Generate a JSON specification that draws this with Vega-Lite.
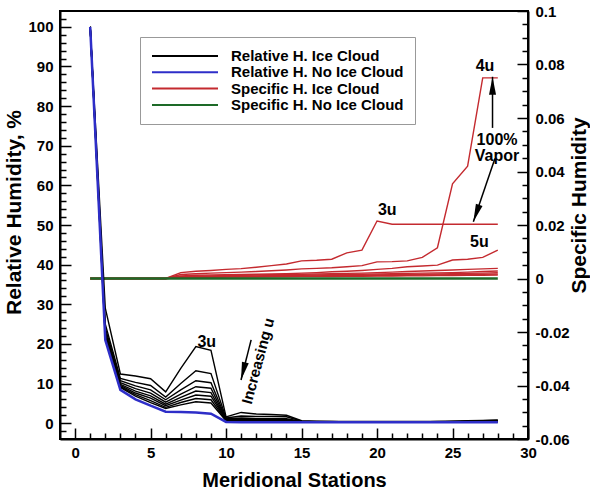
{
"$schema": "https://vega.github.io/schema/vega-lite/v6.json",
"width": 468, "height": 428,
"autosize": {"type": "none"},
"padding": {"left": 60, "top": 11, "right": 62, "bottom": 54},
"datasets": {
"rhi": [
{"s":1,"v":100,"c":"3u"},{"s":2,"v":29,"c":"3u"},{"s":3,"v":12.4,"c":"3u"},{"s":4,"v":11.9,"c":"3u"},{"s":5,"v":11.2,"c":"3u"},{"s":6,"v":7.9,"c":"3u"},{"s":7,"v":13.8,"c":"3u"},{"s":8,"v":19.3,"c":"3u"},{"s":9,"v":18.4,"c":"3u"},{"s":10,"v":1.6,"c":"3u"},{"s":11,"v":2.7,"c":"3u"},{"s":12,"v":2.3,"c":"3u"},{"s":13,"v":2.2,"c":"3u"},{"s":14,"v":2.0,"c":"3u"},{"s":15,"v":0.6,"c":"3u"},{"s":16,"v":0.5,"c":"3u"},{"s":17,"v":0.4,"c":"3u"},{"s":18,"v":0.4,"c":"3u"},{"s":19,"v":0.4,"c":"3u"},{"s":20,"v":0.4,"c":"3u"},{"s":21,"v":0.4,"c":"3u"},{"s":22,"v":0.4,"c":"3u"},{"s":23,"v":0.4,"c":"3u"},{"s":24,"v":0.4,"c":"3u"},{"s":25,"v":0.5,"c":"3u"},{"s":26,"v":0.6,"c":"3u"},{"s":27,"v":0.7,"c":"3u"},{"s":28,"v":0.8,"c":"3u"},
{"s":1,"v":100,"c":"4u"},{"s":2,"v":25,"c":"4u"},{"s":3,"v":11.3,"c":"4u"},{"s":4,"v":10.3,"c":"4u"},{"s":5,"v":9.5,"c":"4u"},{"s":6,"v":6.6,"c":"4u"},{"s":7,"v":10.0,"c":"4u"},{"s":8,"v":13.2,"c":"4u"},{"s":9,"v":12.5,"c":"4u"},{"s":10,"v":1.3,"c":"4u"},{"s":11,"v":1.8,"c":"4u"},{"s":12,"v":1.7,"c":"4u"},{"s":13,"v":1.7,"c":"4u"},{"s":14,"v":1.6,"c":"4u"},{"s":15,"v":0.5,"c":"4u"},{"s":16,"v":0.4,"c":"4u"},{"s":17,"v":0.4,"c":"4u"},{"s":18,"v":0.3,"c":"4u"},{"s":19,"v":0.3,"c":"4u"},{"s":20,"v":0.3,"c":"4u"},{"s":21,"v":0.3,"c":"4u"},{"s":22,"v":0.3,"c":"4u"},{"s":23,"v":0.3,"c":"4u"},{"s":24,"v":0.4,"c":"4u"},{"s":25,"v":0.4,"c":"4u"},{"s":26,"v":0.5,"c":"4u"},{"s":27,"v":0.6,"c":"4u"},{"s":28,"v":0.7,"c":"4u"},
{"s":1,"v":100,"c":"5u"},{"s":2,"v":24,"c":"5u"},{"s":3,"v":10.7,"c":"5u"},{"s":4,"v":9.4,"c":"5u"},{"s":5,"v":8.4,"c":"5u"},{"s":6,"v":5.9,"c":"5u"},{"s":7,"v":8.4,"c":"5u"},{"s":8,"v":10.7,"c":"5u"},{"s":9,"v":10.2,"c":"5u"},{"s":10,"v":1.1,"c":"5u"},{"s":11,"v":1.3,"c":"5u"},{"s":12,"v":1.2,"c":"5u"},{"s":13,"v":1.2,"c":"5u"},{"s":14,"v":1.1,"c":"5u"},{"s":15,"v":0.4,"c":"5u"},{"s":16,"v":0.3,"c":"5u"},{"s":17,"v":0.3,"c":"5u"},{"s":18,"v":0.3,"c":"5u"},{"s":19,"v":0.3,"c":"5u"},{"s":20,"v":0.3,"c":"5u"},{"s":21,"v":0.3,"c":"5u"},{"s":22,"v":0.3,"c":"5u"},{"s":23,"v":0.3,"c":"5u"},{"s":24,"v":0.3,"c":"5u"},{"s":25,"v":0.4,"c":"5u"},{"s":26,"v":0.4,"c":"5u"},{"s":27,"v":0.5,"c":"5u"},{"s":28,"v":0.6,"c":"5u"},
{"s":1,"v":100,"c":"6u"},{"s":2,"v":23.2,"c":"6u"},{"s":3,"v":10.2,"c":"6u"},{"s":4,"v":8.7,"c":"6u"},{"s":5,"v":7.6,"c":"6u"},{"s":6,"v":5.3,"c":"6u"},{"s":7,"v":7.3,"c":"6u"},{"s":8,"v":9.2,"c":"6u"},{"s":9,"v":8.8,"c":"6u"},{"s":10,"v":1.0,"c":"6u"},{"s":11,"v":1.0,"c":"6u"},{"s":12,"v":1.0,"c":"6u"},{"s":13,"v":1.0,"c":"6u"},{"s":14,"v":0.9,"c":"6u"},{"s":15,"v":0.4,"c":"6u"},{"s":16,"v":0.3,"c":"6u"},{"s":17,"v":0.3,"c":"6u"},{"s":18,"v":0.3,"c":"6u"},{"s":19,"v":0.3,"c":"6u"},{"s":20,"v":0.3,"c":"6u"},{"s":21,"v":0.3,"c":"6u"},{"s":22,"v":0.3,"c":"6u"},{"s":23,"v":0.3,"c":"6u"},{"s":24,"v":0.3,"c":"6u"},{"s":25,"v":0.3,"c":"6u"},{"s":26,"v":0.4,"c":"6u"},{"s":27,"v":0.4,"c":"6u"},{"s":28,"v":0.5,"c":"6u"},
{"s":1,"v":100,"c":"7u"},{"s":2,"v":22.6,"c":"7u"},{"s":3,"v":9.8,"c":"7u"},{"s":4,"v":8.1,"c":"7u"},{"s":5,"v":6.9,"c":"7u"},{"s":6,"v":4.8,"c":"7u"},{"s":7,"v":6.5,"c":"7u"},{"s":8,"v":8.1,"c":"7u"},{"s":9,"v":7.7,"c":"7u"},{"s":10,"v":0.9,"c":"7u"},{"s":11,"v":0.9,"c":"7u"},{"s":12,"v":0.8,"c":"7u"},{"s":13,"v":0.8,"c":"7u"},{"s":14,"v":0.8,"c":"7u"},{"s":15,"v":0.3,"c":"7u"},{"s":16,"v":0.3,"c":"7u"},{"s":17,"v":0.3,"c":"7u"},{"s":18,"v":0.3,"c":"7u"},{"s":19,"v":0.3,"c":"7u"},{"s":20,"v":0.3,"c":"7u"},{"s":21,"v":0.3,"c":"7u"},{"s":22,"v":0.3,"c":"7u"},{"s":23,"v":0.3,"c":"7u"},{"s":24,"v":0.3,"c":"7u"},{"s":25,"v":0.3,"c":"7u"},{"s":26,"v":0.3,"c":"7u"},{"s":27,"v":0.4,"c":"7u"},{"s":28,"v":0.5,"c":"7u"},
{"s":1,"v":100,"c":"8u"},{"s":2,"v":22.1,"c":"8u"},{"s":3,"v":9.5,"c":"8u"},{"s":4,"v":7.6,"c":"8u"},{"s":5,"v":6.3,"c":"8u"},{"s":6,"v":4.4,"c":"8u"},{"s":7,"v":5.8,"c":"8u"},{"s":8,"v":7.1,"c":"8u"},{"s":9,"v":6.8,"c":"8u"},{"s":10,"v":0.8,"c":"8u"},{"s":11,"v":0.8,"c":"8u"},{"s":12,"v":0.7,"c":"8u"},{"s":13,"v":0.7,"c":"8u"},{"s":14,"v":0.7,"c":"8u"},{"s":15,"v":0.3,"c":"8u"},{"s":16,"v":0.3,"c":"8u"},{"s":17,"v":0.2,"c":"8u"},{"s":18,"v":0.2,"c":"8u"},{"s":19,"v":0.2,"c":"8u"},{"s":20,"v":0.2,"c":"8u"},{"s":21,"v":0.2,"c":"8u"},{"s":22,"v":0.2,"c":"8u"},{"s":23,"v":0.2,"c":"8u"},{"s":24,"v":0.2,"c":"8u"},{"s":25,"v":0.3,"c":"8u"},{"s":26,"v":0.3,"c":"8u"},{"s":27,"v":0.3,"c":"8u"},{"s":28,"v":0.4,"c":"8u"},
{"s":1,"v":100,"c":"9u"},{"s":2,"v":21.7,"c":"9u"},{"s":3,"v":9.2,"c":"9u"},{"s":4,"v":7.2,"c":"9u"},{"s":5,"v":5.7,"c":"9u"},{"s":6,"v":4.0,"c":"9u"},{"s":7,"v":5.2,"c":"9u"},{"s":8,"v":6.2,"c":"9u"},{"s":9,"v":5.9,"c":"9u"},{"s":10,"v":0.7,"c":"9u"},{"s":11,"v":0.7,"c":"9u"},{"s":12,"v":0.6,"c":"9u"},{"s":13,"v":0.6,"c":"9u"},{"s":14,"v":0.6,"c":"9u"},{"s":15,"v":0.3,"c":"9u"},{"s":16,"v":0.2,"c":"9u"},{"s":17,"v":0.2,"c":"9u"},{"s":18,"v":0.2,"c":"9u"},{"s":19,"v":0.2,"c":"9u"},{"s":20,"v":0.2,"c":"9u"},{"s":21,"v":0.2,"c":"9u"},{"s":22,"v":0.2,"c":"9u"},{"s":23,"v":0.2,"c":"9u"},{"s":24,"v":0.2,"c":"9u"},{"s":25,"v":0.2,"c":"9u"},{"s":26,"v":0.3,"c":"9u"},{"s":27,"v":0.3,"c":"9u"},{"s":28,"v":0.4,"c":"9u"},
{"s":1,"v":100,"c":"10u"},{"s":2,"v":21.4,"c":"10u"},{"s":3,"v":9.0,"c":"10u"},{"s":4,"v":6.8,"c":"10u"},{"s":5,"v":5.2,"c":"10u"},{"s":6,"v":3.7,"c":"10u"},{"s":7,"v":4.6,"c":"10u"},{"s":8,"v":5.4,"c":"10u"},{"s":9,"v":5.1,"c":"10u"},{"s":10,"v":0.6,"c":"10u"},{"s":11,"v":0.6,"c":"10u"},{"s":12,"v":0.5,"c":"10u"},{"s":13,"v":0.5,"c":"10u"},{"s":14,"v":0.5,"c":"10u"},{"s":15,"v":0.2,"c":"10u"},{"s":16,"v":0.2,"c":"10u"},{"s":17,"v":0.2,"c":"10u"},{"s":18,"v":0.2,"c":"10u"},{"s":19,"v":0.2,"c":"10u"},{"s":20,"v":0.2,"c":"10u"},{"s":21,"v":0.2,"c":"10u"},{"s":22,"v":0.2,"c":"10u"},{"s":23,"v":0.2,"c":"10u"},{"s":24,"v":0.2,"c":"10u"},{"s":25,"v":0.2,"c":"10u"},{"s":26,"v":0.2,"c":"10u"},{"s":27,"v":0.3,"c":"10u"},{"s":28,"v":0.3,"c":"10u"}
],
"rhn": [
{"s":1,"v":100},{"s":2,"v":21},{"s":3,"v":8.4},{"s":4,"v":6.0},{"s":5,"v":4.4},{"s":6,"v":2.9},{"s":7,"v":2.8},{"s":8,"v":2.7},{"s":9,"v":2.4},{"s":10,"v":0.3},{"s":11,"v":0.2},{"s":12,"v":0.2},{"s":13,"v":0.2},{"s":14,"v":0.2},{"s":15,"v":0.2},{"s":16,"v":0.2},{"s":17,"v":0.2},{"s":18,"v":0.2},{"s":19,"v":0.2},{"s":20,"v":0.2},{"s":21,"v":0.2},{"s":22,"v":0.2},{"s":23,"v":0.2},{"s":24,"v":0.2},{"s":25,"v":0.2},{"s":26,"v":0.2},{"s":27,"v":0.2},{"s":28,"v":0.2}
],
"shi": [
{"s":1,"v":0,"c":"3u"},{"s":2,"v":0,"c":"3u"},{"s":3,"v":0,"c":"3u"},{"s":4,"v":0,"c":"3u"},{"s":5,"v":0,"c":"3u"},{"s":6,"v":0,"c":"3u"},{"s":7,"v":0.0022,"c":"3u"},{"s":8,"v":0.0027,"c":"3u"},{"s":9,"v":0.003,"c":"3u"},{"s":10,"v":0.0034,"c":"3u"},{"s":11,"v":0.0037,"c":"3u"},{"s":12,"v":0.0042,"c":"3u"},{"s":13,"v":0.0048,"c":"3u"},{"s":14,"v":0.0054,"c":"3u"},{"s":15,"v":0.0066,"c":"3u"},{"s":16,"v":0.0068,"c":"3u"},{"s":17,"v":0.0072,"c":"3u"},{"s":18,"v":0.0096,"c":"3u"},{"s":19,"v":0.0106,"c":"3u"},{"s":20,"v":0.0215,"c":"3u"},{"s":21,"v":0.0203,"c":"3u"},{"s":22,"v":0.0203,"c":"3u"},{"s":23,"v":0.0203,"c":"3u"},{"s":24,"v":0.0203,"c":"3u"},{"s":25,"v":0.0203,"c":"3u"},{"s":26,"v":0.0203,"c":"3u"},{"s":27,"v":0.0203,"c":"3u"},{"s":28,"v":0.0203,"c":"3u"},
{"s":1,"v":0,"c":"4u"},{"s":2,"v":0,"c":"4u"},{"s":3,"v":0,"c":"4u"},{"s":4,"v":0,"c":"4u"},{"s":5,"v":0,"c":"4u"},{"s":6,"v":0,"c":"4u"},{"s":7,"v":0.0015,"c":"4u"},{"s":8,"v":0.0018,"c":"4u"},{"s":9,"v":0.002,"c":"4u"},{"s":10,"v":0.0022,"c":"4u"},{"s":11,"v":0.0024,"c":"4u"},{"s":12,"v":0.0026,"c":"4u"},{"s":13,"v":0.0029,"c":"4u"},{"s":14,"v":0.0032,"c":"4u"},{"s":15,"v":0.0036,"c":"4u"},{"s":16,"v":0.0038,"c":"4u"},{"s":17,"v":0.004,"c":"4u"},{"s":18,"v":0.0044,"c":"4u"},{"s":19,"v":0.0048,"c":"4u"},{"s":20,"v":0.0062,"c":"4u"},{"s":21,"v":0.0063,"c":"4u"},{"s":22,"v":0.0066,"c":"4u"},{"s":23,"v":0.0079,"c":"4u"},{"s":24,"v":0.0115,"c":"4u"},{"s":25,"v":0.0354,"c":"4u"},{"s":26,"v":0.042,"c":"4u"},{"s":27,"v":0.075,"c":"4u"},{"s":28,"v":0.075,"c":"4u"},
{"s":1,"v":0,"c":"5u"},{"s":2,"v":0,"c":"5u"},{"s":3,"v":0,"c":"5u"},{"s":4,"v":0,"c":"5u"},{"s":5,"v":0,"c":"5u"},{"s":6,"v":0,"c":"5u"},{"s":7,"v":0.001,"c":"5u"},{"s":8,"v":0.0012,"c":"5u"},{"s":9,"v":0.0013,"c":"5u"},{"s":10,"v":0.0014,"c":"5u"},{"s":11,"v":0.0015,"c":"5u"},{"s":12,"v":0.0016,"c":"5u"},{"s":13,"v":0.0017,"c":"5u"},{"s":14,"v":0.0018,"c":"5u"},{"s":15,"v":0.002,"c":"5u"},{"s":16,"v":0.0022,"c":"5u"},{"s":17,"v":0.0025,"c":"5u"},{"s":18,"v":0.0027,"c":"5u"},{"s":19,"v":0.003,"c":"5u"},{"s":20,"v":0.0034,"c":"5u"},{"s":21,"v":0.0038,"c":"5u"},{"s":22,"v":0.0044,"c":"5u"},{"s":23,"v":0.0047,"c":"5u"},{"s":24,"v":0.005,"c":"5u"},{"s":25,"v":0.0069,"c":"5u"},{"s":26,"v":0.0072,"c":"5u"},{"s":27,"v":0.0079,"c":"5u"},{"s":28,"v":0.0106,"c":"5u"},
{"s":1,"v":0,"c":"6u"},{"s":2,"v":0,"c":"6u"},{"s":3,"v":0,"c":"6u"},{"s":4,"v":0,"c":"6u"},{"s":5,"v":0,"c":"6u"},{"s":6,"v":0,"c":"6u"},{"s":7,"v":0.0008,"c":"6u"},{"s":8,"v":0.0009,"c":"6u"},{"s":9,"v":0.001,"c":"6u"},{"s":10,"v":0.0011,"c":"6u"},{"s":11,"v":0.0012,"c":"6u"},{"s":12,"v":0.0013,"c":"6u"},{"s":13,"v":0.0014,"c":"6u"},{"s":14,"v":0.0015,"c":"6u"},{"s":15,"v":0.0016,"c":"6u"},{"s":16,"v":0.0017,"c":"6u"},{"s":17,"v":0.0018,"c":"6u"},{"s":18,"v":0.0019,"c":"6u"},{"s":19,"v":0.002,"c":"6u"},{"s":20,"v":0.0022,"c":"6u"},{"s":21,"v":0.0024,"c":"6u"},{"s":22,"v":0.0026,"c":"6u"},{"s":23,"v":0.0028,"c":"6u"},{"s":24,"v":0.003,"c":"6u"},{"s":25,"v":0.0032,"c":"6u"},{"s":26,"v":0.0034,"c":"6u"},{"s":27,"v":0.0036,"c":"6u"},{"s":28,"v":0.0038,"c":"6u"},
{"s":1,"v":0,"c":"7u"},{"s":2,"v":0,"c":"7u"},{"s":3,"v":0,"c":"7u"},{"s":4,"v":0,"c":"7u"},{"s":5,"v":0,"c":"7u"},{"s":6,"v":0,"c":"7u"},{"s":7,"v":0.0006,"c":"7u"},{"s":8,"v":0.0007,"c":"7u"},{"s":9,"v":0.0008,"c":"7u"},{"s":10,"v":0.0009,"c":"7u"},{"s":11,"v":0.001,"c":"7u"},{"s":12,"v":0.001,"c":"7u"},{"s":13,"v":0.0011,"c":"7u"},{"s":14,"v":0.0012,"c":"7u"},{"s":15,"v":0.0012,"c":"7u"},{"s":16,"v":0.0013,"c":"7u"},{"s":17,"v":0.0014,"c":"7u"},{"s":18,"v":0.0015,"c":"7u"},{"s":19,"v":0.0016,"c":"7u"},{"s":20,"v":0.0017,"c":"7u"},{"s":21,"v":0.0018,"c":"7u"},{"s":22,"v":0.0019,"c":"7u"},{"s":23,"v":0.002,"c":"7u"},{"s":24,"v":0.0021,"c":"7u"},{"s":25,"v":0.0022,"c":"7u"},{"s":26,"v":0.0024,"c":"7u"},{"s":27,"v":0.0026,"c":"7u"},{"s":28,"v":0.0028,"c":"7u"},
{"s":1,"v":0,"c":"8u"},{"s":2,"v":0,"c":"8u"},{"s":3,"v":0,"c":"8u"},{"s":4,"v":0,"c":"8u"},{"s":5,"v":0,"c":"8u"},{"s":6,"v":0,"c":"8u"},{"s":7,"v":0.0005,"c":"8u"},{"s":8,"v":0.0006,"c":"8u"},{"s":9,"v":0.0006,"c":"8u"},{"s":10,"v":0.0007,"c":"8u"},{"s":11,"v":0.0008,"c":"8u"},{"s":12,"v":0.0008,"c":"8u"},{"s":13,"v":0.0009,"c":"8u"},{"s":14,"v":0.0009,"c":"8u"},{"s":15,"v":0.001,"c":"8u"},{"s":16,"v":0.001,"c":"8u"},{"s":17,"v":0.0011,"c":"8u"},{"s":18,"v":0.0012,"c":"8u"},{"s":19,"v":0.0012,"c":"8u"},{"s":20,"v":0.0013,"c":"8u"},{"s":21,"v":0.0014,"c":"8u"},{"s":22,"v":0.0015,"c":"8u"},{"s":23,"v":0.0016,"c":"8u"},{"s":24,"v":0.0017,"c":"8u"},{"s":25,"v":0.0018,"c":"8u"},{"s":26,"v":0.0019,"c":"8u"},{"s":27,"v":0.002,"c":"8u"},{"s":28,"v":0.0022,"c":"8u"},
{"s":1,"v":0,"c":"9u"},{"s":2,"v":0,"c":"9u"},{"s":3,"v":0,"c":"9u"},{"s":4,"v":0,"c":"9u"},{"s":5,"v":0,"c":"9u"},{"s":6,"v":0,"c":"9u"},{"s":7,"v":0.0004,"c":"9u"},{"s":8,"v":0.0005,"c":"9u"},{"s":9,"v":0.0005,"c":"9u"},{"s":10,"v":0.0006,"c":"9u"},{"s":11,"v":0.0006,"c":"9u"},{"s":12,"v":0.0007,"c":"9u"},{"s":13,"v":0.0007,"c":"9u"},{"s":14,"v":0.0008,"c":"9u"},{"s":15,"v":0.0008,"c":"9u"},{"s":16,"v":0.0009,"c":"9u"},{"s":17,"v":0.0009,"c":"9u"},{"s":18,"v":0.001,"c":"9u"},{"s":19,"v":0.001,"c":"9u"},{"s":20,"v":0.0011,"c":"9u"},{"s":21,"v":0.0011,"c":"9u"},{"s":22,"v":0.0012,"c":"9u"},{"s":23,"v":0.0013,"c":"9u"},{"s":24,"v":0.0013,"c":"9u"},{"s":25,"v":0.0014,"c":"9u"},{"s":26,"v":0.0015,"c":"9u"},{"s":27,"v":0.0016,"c":"9u"},{"s":28,"v":0.0017,"c":"9u"},
{"s":1,"v":0,"c":"10u"},{"s":2,"v":0,"c":"10u"},{"s":3,"v":0,"c":"10u"},{"s":4,"v":0,"c":"10u"},{"s":5,"v":0,"c":"10u"},{"s":6,"v":0,"c":"10u"},{"s":7,"v":0.0003,"c":"10u"},{"s":8,"v":0.0004,"c":"10u"},{"s":9,"v":0.0004,"c":"10u"},{"s":10,"v":0.0005,"c":"10u"},{"s":11,"v":0.0005,"c":"10u"},{"s":12,"v":0.0005,"c":"10u"},{"s":13,"v":0.0006,"c":"10u"},{"s":14,"v":0.0006,"c":"10u"},{"s":15,"v":0.0007,"c":"10u"},{"s":16,"v":0.0007,"c":"10u"},{"s":17,"v":0.0007,"c":"10u"},{"s":18,"v":0.0008,"c":"10u"},{"s":19,"v":0.0008,"c":"10u"},{"s":20,"v":0.0009,"c":"10u"},{"s":21,"v":0.0009,"c":"10u"},{"s":22,"v":0.001,"c":"10u"},{"s":23,"v":0.001,"c":"10u"},{"s":24,"v":0.0011,"c":"10u"},{"s":25,"v":0.0011,"c":"10u"},{"s":26,"v":0.0012,"c":"10u"},{"s":27,"v":0.0012,"c":"10u"},{"s":28,"v":0.0013,"c":"10u"}
],
"shn": [
{"s":1,"v":0},{"s":2,"v":0},{"s":3,"v":0},{"s":4,"v":0},{"s":5,"v":0},{"s":6,"v":0},{"s":7,"v":0},{"s":8,"v":0},{"s":9,"v":0},{"s":10,"v":0},{"s":11,"v":0},{"s":12,"v":0},{"s":13,"v":0},{"s":14,"v":0},{"s":15,"v":0},{"s":16,"v":0},{"s":17,"v":0},{"s":18,"v":0},{"s":19,"v":0},{"s":20,"v":0},{"s":21,"v":0},{"s":22,"v":0},{"s":23,"v":0},{"s":24,"v":0},{"s":25,"v":0},{"s":26,"v":0},{"s":27,"v":0},{"s":28,"v":0}
],
"ann": [
{"s":8.72,"v":20.5,"t":"3u"},{"s":20.68,"v":53.8,"t":"3u"},{"s":27.15,"v":90.0,"t":"4u"},{"s":26.78,"v":45.8,"t":"5u"},{"s":27.95,"v":71.4,"t":"100%\nVapor"}
],
"rot": [{"s":12.12,"v":15.7,"t":"Increasing u"}],
"arrows": [
{"id":"inc","s":11.66,"v":21.0,"s2":10.99,"v2":10.9},
{"id":"up","s":27.65,"v":74.5,"s2":27.65,"v2":87.4},
{"id":"vap","s":27.81,"v":66.8,"s2":26.38,"v2":50.8}
]
},
"encoding": {
  "x": {"field": "s", "type": "quantitative",
    "scale": {"domain": [-1, 30], "nice": false, "zero": false},
    "axis": {"title": "Meridional Stations", "titleFontSize": 20,
      "values": [0,1,2,3,4,5,6,7,8,9,10,11,12,13,14,15,16,17,18,19,20,21,22,23,24,25,26,27,28,29,30],
      "labelExpr": "datum.value % 5 === 0 ? datum.label : ''",
      "tickSize": {"condition": {"test": "datum.value % 5 === 0", "value": -11}, "value": -6},
      "labelPadding": 17, "titlePadding": 5}}
},
"layer": [
  {
    "encoding": {"y": {"field": "v", "type": "quantitative",
      "scale": {"domain": [-0.06, 0.1], "nice": false, "zero": false},
      "axis": {"orient": "right", "title": "Specific Humidity", "titleAngle": 270, "titleBaseline": "top", "titleY": 194, "titleFontSize": 21,
        "values": [-0.06,-0.055,-0.05,-0.045,-0.04,-0.035,-0.03,-0.025,-0.02,-0.015,-0.01,-0.005,0,0.005,0.01,0.015,0.02,0.025,0.03,0.035,0.04,0.045,0.05,0.055,0.06,0.065,0.07,0.075,0.08,0.085,0.09,0.095,0.1],
        "labelExpr": "round(abs(datum.value)*1000) % 20 === 0 ? replace(format(datum.value, '~g'), '\u2212', '-') : ''",
        "tickSize": {"condition": {"test": "round(abs(datum.value)*1000) % 20 === 0", "value": -11}, "value": -6},
        "labelPadding": 18, "titlePadding": -1}}},
    "layer": [
      {"data": {"name": "shi"}, "mark": {"type": "line", "strokeWidth": 1.4},
       "encoding": {"detail": {"field": "c"}, "color": {"datum": "Specific H. Ice Cloud"}}},
      {"data": {"name": "shn"}, "mark": {"type": "line", "strokeWidth": 2.5},
       "encoding": {"color": {"datum": "Specific H. No Ice Cloud"}}}
    ]
  },
  {
    "encoding": {"y": {"field": "v", "type": "quantitative",
      "scale": {"domain": [-4, 104], "nice": false, "zero": false},
      "axis": {"orient": "left", "title": "Relative Humidity, %", "titleY": 201, "titleFontSize": 21,
        "values": [-2,0,2,4,6,8,10,12,14,16,18,20,22,24,26,28,30,32,34,36,38,40,42,44,46,48,50,52,54,56,58,60,62,64,66,68,70,72,74,76,78,80,82,84,86,88,90,92,94,96,98,100,102],
        "labelExpr": "datum.value % 10 === 0 ? datum.label : ''",
        "tickSize": {"condition": {"test": "datum.value % 10 === 0", "value": -11}, "value": -6},
        "labelPadding": 18, "titlePadding": 3}}},
    "layer": [
      {"data": {"name": "rhi"}, "mark": {"type": "line", "strokeWidth": 1.4},
       "encoding": {"detail": {"field": "c"},
         "color": {"datum": "Relative H. Ice Cloud",
           "scale": {"domain": ["Relative H. Ice Cloud", "Relative H. No Ice Cloud", "Specific H. Ice Cloud", "Specific H. No Ice Cloud"],
                     "range": ["#000000", "#2e2ec8", "#c42a2f", "#1d6a28"]},
           "legend": {"title": null, "orient": "none", "legendX": 80, "legendY": 26,
             "symbolType": "stroke", "symbolSize": 4356, "symbolStrokeWidth": 2,
             "clipHeight": 16, "rowPadding": 0.3, "padding": 11, "labelOffset": 12, "labelLimit": 400,
             "labelFont": "Liberation Sans", "labelFontWeight": "bold", "labelFontSize": 15, "labelColor": "black",
             "strokeColor": "#999999", "fillColor": "white"}}}},
      {"data": {"name": "rhn"}, "mark": {"type": "line", "strokeWidth": 2.5},
       "encoding": {"color": {"datum": "Relative H. No Ice Cloud"}}},
      {"data": {"name": "ann"}, "mark": {"type": "text", "font": "Liberation Sans", "fontWeight": "bold", "fontSize": 16, "color": "black", "lineBreak": "\n", "lineHeight": 15.5},
       "encoding": {"text": {"field": "t"}}},
      {"data": {"name": "rot"}, "mark": {"type": "text", "font": "Liberation Sans", "fontWeight": "bold", "fontSize": 15, "color": "black", "angle": 285},
       "encoding": {"text": {"field": "t"}}},
      {"data": {"name": "arrows"}, "mark": {"type": "rule", "color": "black", "strokeWidth": 1.5},
       "encoding": {"x2": {"field": "s2"}, "y2": {"field": "v2"}}},
      {"data": {"name": "arrows"}, "transform": [{"filter": "datum.id === 'inc'"}],
       "mark": {"type": "point", "shape": "M0,0L0.7,3.6L-0.7,3.6Z", "filled": true, "color": "black", "opacity": 1, "size": 100, "angle": 194},
       "encoding": {"x": {"field": "s2", "type": "quantitative"}, "y": {"field": "v2", "type": "quantitative"}}},
      {"data": {"name": "arrows"}, "transform": [{"filter": "datum.id === 'up'"}],
       "mark": {"type": "point", "shape": "M0,0L0.7,3.6L-0.7,3.6Z", "filled": true, "color": "black", "opacity": 1, "size": 100, "angle": 0},
       "encoding": {"x": {"field": "s2", "type": "quantitative"}, "y": {"field": "v2", "type": "quantitative"}}},
      {"data": {"name": "arrows"}, "transform": [{"filter": "datum.id === 'vap'"}],
       "mark": {"type": "point", "shape": "M0,0L0.7,3.6L-0.7,3.6Z", "filled": true, "color": "black", "opacity": 1, "size": 100, "angle": 199},
       "encoding": {"x": {"field": "s2", "type": "quantitative"}, "y": {"field": "v2", "type": "quantitative"}}}
    ]
  }
],
"resolve": {"scale": {"y": "independent"}},
"config": {
  "font": "Liberation Sans",
  "view": {"stroke": "black", "strokeWidth": 2},
  "axis": {"grid": false, "domainColor": "black", "domainWidth": 2, "tickColor": "black", "tickWidth": 1.5,
    "labelFont": "Liberation Sans", "labelFontWeight": "bold", "labelFontSize": 15, "labelColor": "black",
    "labelOverlap": false, "labelFlush": false,
    "titleFont": "Liberation Sans", "titleFontWeight": "bold", "titleFontSize": 19, "titleColor": "black"}
}
}
